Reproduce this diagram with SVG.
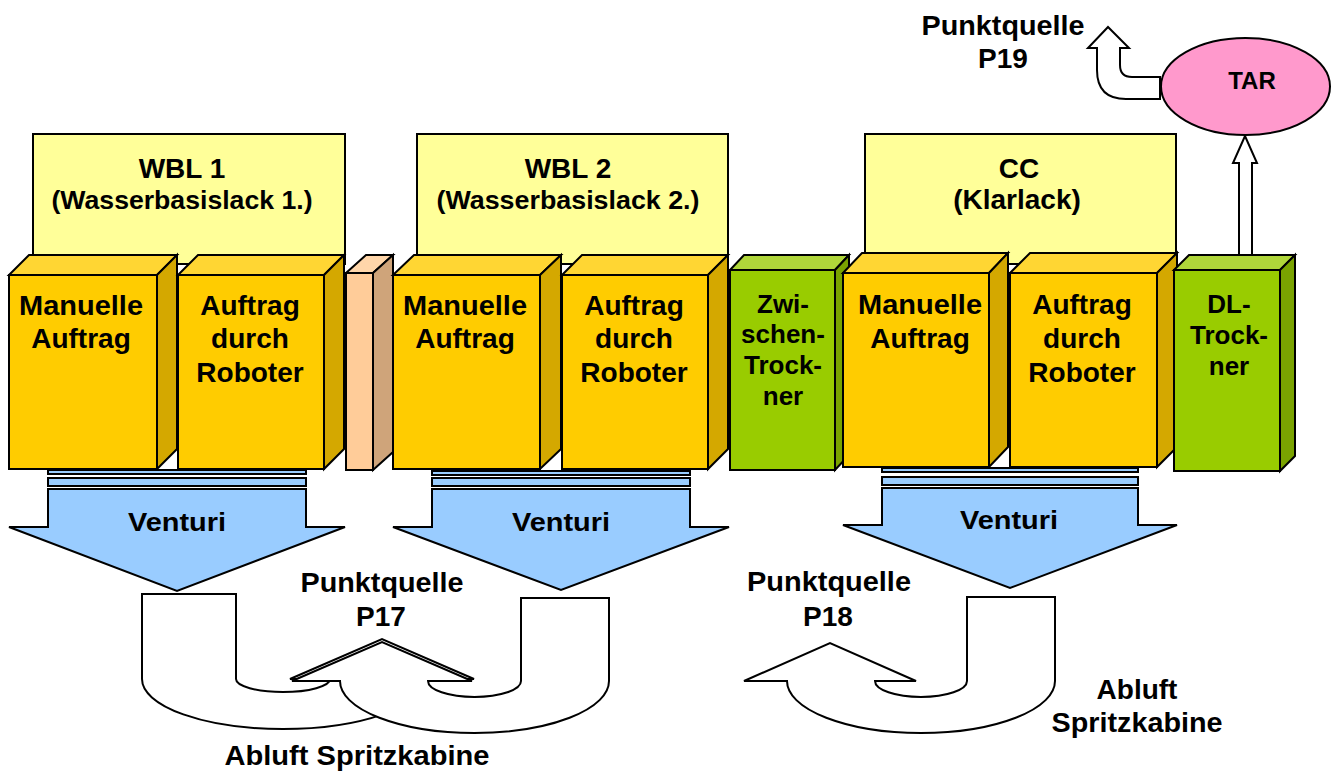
<svg xmlns="http://www.w3.org/2000/svg" width="1334" height="773" viewBox="0 0 1334 773">
<style>
.s{stroke:#000;stroke-width:2;stroke-linejoin:miter}
.hdr{fill:#FFFF99}
.yf{fill:#FFCC00}.yt{fill:#FFD633}.ys{fill:#D4A800}
.pf{fill:#FFCC99}.pt{fill:#FFD6AA}.ps{fill:#CFA47A}
.gf{fill:#99CC00}.gt{fill:#B0D63A}.gs{fill:#7AA300}
.ven{fill:#99CCFF}
.wa{fill:#FFFFFF}
.pink{fill:#FF99CC}
text{font-family:"Liberation Sans",Arial,sans-serif;font-weight:bold;fill:#000;text-anchor:middle}
.f28{font-size:28px}.f26{font-size:26px}.f25{font-size:25px}.f24{font-size:24px}
</style>
<rect width="1334" height="773" fill="#FFFFFF"/>

<g id="connectors">
  <path class="s wa" d="M1239,256 L1239,163 L1233,163 L1245,136 L1257,163 L1252,163 L1252,256 Z"/>
  <path class="s wa" d="M1160,77 L1132,77 Q1120,77 1120,65 L1120,48 L1129,48 L1108,27 L1088,48 L1097,48 L1097,70 C1097,90 1108,99 1126,99 L1160,99 Z"/>
  <path class="s wa" d="M142,594 L236,594 L236,679 A47,13 0 0 0 330,679 L290,679 L382,639 L474,679 L424,679 A141,50 0 0 1 142,679 Z"/>
  <path class="s wa" d="M521,598 L609,598 L609,681 A134.5,52 0 0 1 340,681 L292,681 L382,642 L472,681 L428,681 A46.5,16 0 0 0 521,681 Z"/>
  <path class="s wa" d="M967,597 L1055,597 L1055,681 A134,52 0 0 1 787,681 L744,681 L830,643 L916,681 L875,681 A46,16 0 0 0 967,681 Z"/>
</g>

<g id="hdr-wbl1">
  <rect class="s hdr" x="33" y="134" width="312" height="130"/>
  <text class="f28" x="182" y="178">WBL 1</text>
  <text class="f25" x="182" y="209" textLength="261" lengthAdjust="spacingAndGlyphs">(Wasserbasislack 1.)</text>
</g>
<g id="hdr-wbl2">
  <rect class="s hdr" x="417" y="134" width="311" height="130"/>
  <text class="f28" x="568" y="178">WBL 2</text>
  <text class="f25" x="568" y="209" textLength="263" lengthAdjust="spacingAndGlyphs">(Wasserbasislack 2.)</text>
</g>
<g id="hdr-cc">
  <rect class="s hdr" x="865" y="134" width="311" height="130"/>
  <text class="f28" x="1019" y="178">CC</text>
  <text class="f28" x="1017" y="209">(Klarlack)</text>
</g>

<g id="box-manuelle1">
  <polygon class="s yt" points="9,275 29,255 177,255 157,275"/>
  <polygon class="s ys" points="157,275 177,255 177,449 157,469"/>
  <rect class="s yf" x="9" y="275" width="148" height="194"/>
  <text class="f28" x="81" y="315" textLength="124" lengthAdjust="spacingAndGlyphs">Manuelle</text>
  <text class="f28" x="81" y="348">Auftrag</text>
</g>
<g id="box-roboter1">
  <polygon class="s yt" points="178,275 198,255 344,255 324,275"/>
  <polygon class="s ys" points="324,275 344,255 344,449 324,469"/>
  <rect class="s yf" x="178" y="275" width="146" height="194"/>
  <text class="f28" x="250" y="315">Auftrag</text>
  <text class="f28" x="250" y="348">durch</text>
  <text class="f28" x="250" y="382">Roboter</text>
</g>
<g id="box-peach">
  <polygon class="s pt" points="346,273 366,255 393,255 373,273"/>
  <polygon class="s ps" points="373,273 393,255 393,452 373,470"/>
  <rect class="s pf" x="346" y="273" width="27" height="197"/>
</g>
<g id="box-manuelle2">
  <polygon class="s yt" points="393,275 414,255 561,255 540,275"/>
  <polygon class="s ys" points="540,275 561,255 561,449 540,469"/>
  <rect class="s yf" x="393" y="275" width="147" height="194"/>
  <text class="f28" x="465" y="315" textLength="124" lengthAdjust="spacingAndGlyphs">Manuelle</text>
  <text class="f28" x="465" y="348">Auftrag</text>
</g>
<g id="box-roboter2">
  <polygon class="s yt" points="562,275 582,255 728,255 708,275"/>
  <polygon class="s ys" points="708,275 728,255 728,449 708,469"/>
  <rect class="s yf" x="562" y="275" width="146" height="194"/>
  <text class="f28" x="634" y="315">Auftrag</text>
  <text class="f28" x="634" y="348">durch</text>
  <text class="f28" x="634" y="382">Roboter</text>
</g>
<g id="box-zwischentrockner">
  <polygon class="s gt" points="730,270 744,255 849,255 835,270"/>
  <polygon class="s gs" points="835,270 849,255 849,455 835,470"/>
  <rect class="s gf" x="730" y="270" width="105" height="200"/>
  <text class="f26" x="783" y="313">Zwi-</text>
  <text class="f26" x="783" y="343">schen-</text>
  <text class="f26" x="783" y="374">Trock-</text>
  <text class="f26" x="783" y="405">ner</text>
</g>
<g id="box-manuelle3">
  <polygon class="s yt" points="843,273 862,253 1008,253 989,273"/>
  <polygon class="s ys" points="989,273 1008,253 1008,447 989,467"/>
  <rect class="s yf" x="843" y="273" width="146" height="194"/>
  <text class="f28" x="920" y="314" textLength="124" lengthAdjust="spacingAndGlyphs">Manuelle</text>
  <text class="f28" x="920" y="348">Auftrag</text>
</g>
<g id="box-roboter3">
  <polygon class="s yt" points="1010,273 1030,253 1177,253 1157,273"/>
  <polygon class="s ys" points="1157,273 1177,253 1177,447 1157,467"/>
  <rect class="s yf" x="1010" y="273" width="147" height="194"/>
  <text class="f28" x="1082" y="314">Auftrag</text>
  <text class="f28" x="1082" y="348">durch</text>
  <text class="f28" x="1082" y="382">Roboter</text>
</g>
<g id="box-dltrockner">
  <polygon class="s gt" points="1174,270 1189,255 1295,255 1280,270"/>
  <polygon class="s gs" points="1280,270 1295,255 1295,456 1280,471"/>
  <rect class="s gf" x="1174" y="270" width="106" height="201"/>
  <text class="f26" x="1229" y="313">DL-</text>
  <text class="f26" x="1229" y="344">Trock-</text>
  <text class="f26" x="1229" y="375">ner</text>
</g>

<g id="venturi1">
  <rect class="s ven" x="48" y="470" width="258" height="4"/>
  <rect class="s ven" x="48" y="478" width="258" height="8"/>
  <path class="s ven" d="M48,489 L306,489 L306,527 L345,527 L177,591 L9,527 L48,527 Z"/>
  <text class="f26" x="177" y="531" textLength="98" lengthAdjust="spacingAndGlyphs">Venturi</text>
</g>
<g id="venturi2">
  <rect class="s ven" x="432" y="471" width="258" height="4"/>
  <rect class="s ven" x="432" y="478" width="258" height="8"/>
  <path class="s ven" d="M432,489 L690,489 L690,527 L729,527 L561,590 L393,527 L432,527 Z"/>
  <text class="f26" x="561" y="531" textLength="98" lengthAdjust="spacingAndGlyphs">Venturi</text>
</g>
<g id="venturi3">
  <rect class="s ven" x="882" y="468" width="256" height="4"/>
  <rect class="s ven" x="882" y="477" width="256" height="8"/>
  <path class="s ven" d="M882,488 L1138,488 L1138,525 L1177,525 L1010,588 L843,525 L882,525 Z"/>
  <text class="f26" x="1009" y="529" textLength="98" lengthAdjust="spacingAndGlyphs">Venturi</text>
</g>

<g id="tar">
  <ellipse class="s pink" cx="1245.5" cy="86.5" rx="84.5" ry="48.5"/>
  <text class="f24" x="1252" y="89">TAR</text>
</g>

<g id="labels">
  <text class="f28" x="1003" y="35" textLength="163" lengthAdjust="spacingAndGlyphs">Punktquelle</text>
  <text class="f28" x="1003" y="68">P19</text>
  <text class="f28" x="382" y="592" textLength="163" lengthAdjust="spacingAndGlyphs">Punktquelle</text>
  <text class="f28" x="381" y="626">P17</text>
  <text class="f28" x="829" y="591" textLength="164" lengthAdjust="spacingAndGlyphs">Punktquelle</text>
  <text class="f28" x="828" y="626">P18</text>
  <text class="f28" x="357" y="765" textLength="265" lengthAdjust="spacingAndGlyphs">Abluft Spritzkabine</text>
  <text class="f28" x="1137" y="699">Abluft</text>
  <text class="f28" x="1137" y="732" textLength="171" lengthAdjust="spacingAndGlyphs">Spritzkabine</text>
</g>
</svg>
